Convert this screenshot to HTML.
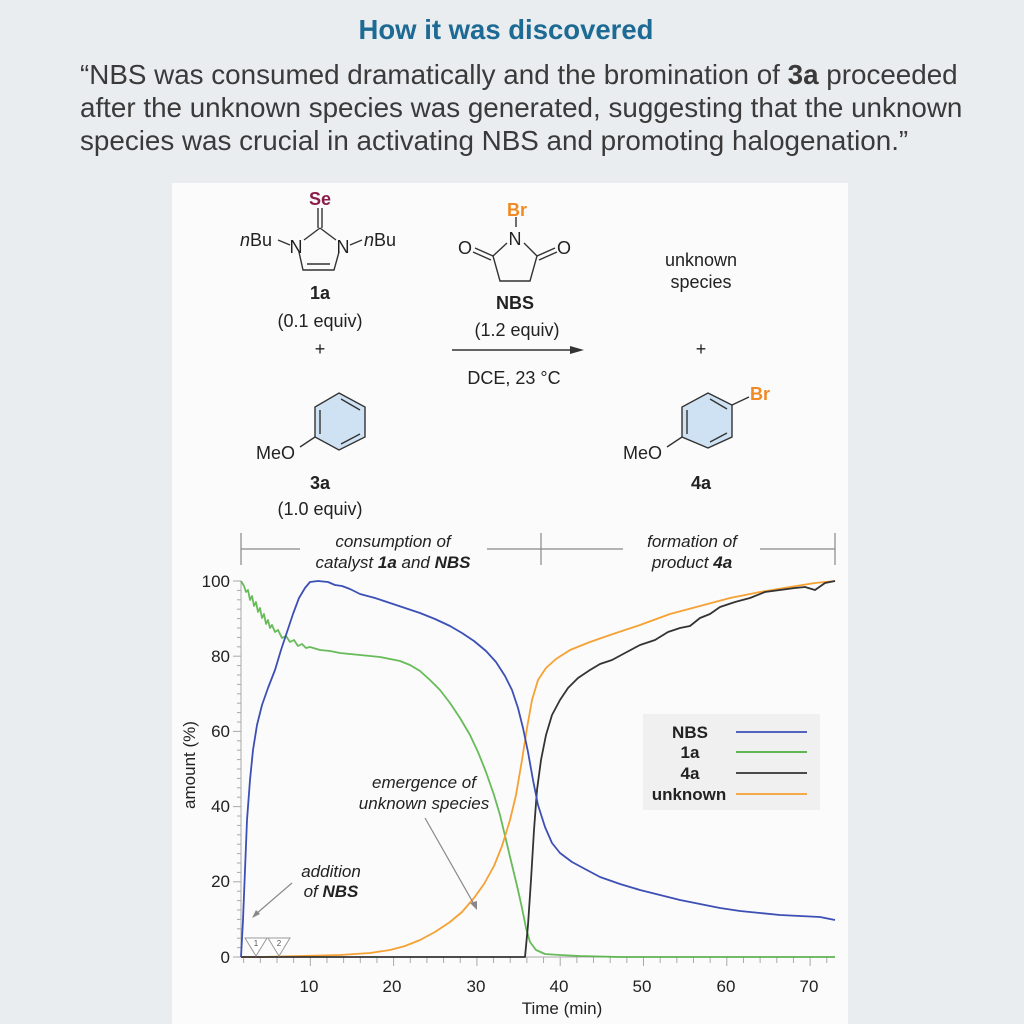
<!DOCTYPE html>
<html><head><meta charset="utf-8"><style>
body{margin:0;width:1024px;height:1024px;background:#e9edef;font-family:"Liberation Sans",sans-serif;overflow:hidden;position:relative}
.t{position:absolute;left:-6px;width:1024px;text-align:center;top:14px;font-size:27.5px;font-weight:bold;color:#1d6a94}
.q{position:absolute;left:80px;top:58px;font-size:27.8px;line-height:33px;color:#3a3a3a;white-space:nowrap}
.card{position:absolute;left:172px;top:183px;width:676px;height:841px;background:#fbfbfb}
svg{position:absolute;left:0;top:0}
</style></head><body>
<div class="t">How it was discovered</div>
<div class="q">“NBS was consumed dramatically and the bromination of <b>3a</b> proceeded<br>after the unknown species was generated, suggesting that the unknown<br>species was crucial in activating NBS and promoting halogenation.”</div>
<div class="card"></div>
<svg width="1024" height="1024" font-family="Liberation Sans, sans-serif">
<!-- 1a -->
<g fill="none" stroke="#333" stroke-width="1.4">
<line x1="318" y1="208" x2="318" y2="228"/><line x1="322" y1="208" x2="322" y2="228"/>
<line x1="320" y1="228" x2="336" y2="240"/><line x1="320" y1="228" x2="304" y2="240"/>
<polyline points="299,252 303,270 334,270 339,252"/><line x1="307" y1="264" x2="330" y2="264"/>
<line x1="278" y1="240" x2="290" y2="245"/><line x1="350" y1="245" x2="362" y2="240"/>
</g>
<text x="320" y="205" font-size="18" font-weight="bold" fill="#8a1d4a" text-anchor="middle">Se</text>
<text x="240" y="246" font-size="18" fill="#222"><tspan font-style="italic">n</tspan>Bu</text>
<text x="296" y="253" font-size="18" fill="#222" text-anchor="middle">N</text><text x="343" y="253" font-size="18" fill="#222" text-anchor="middle">N</text>
<text x="364" y="246" font-size="18" fill="#222"><tspan font-style="italic">n</tspan>Bu</text>
<text x="320" y="299" font-size="18" font-weight="bold" fill="#222" text-anchor="middle">1a</text>
<text x="320" y="327" font-size="18" fill="#222" text-anchor="middle">(0.1 equiv)</text>
<text x="320" y="355" font-size="18" fill="#222" text-anchor="middle">+</text>
<!-- 3a -->
<polygon points="339,393 365,407 365,437 339,450 315,437 315,407" fill="#cfe2f3" stroke="#333" stroke-width="1.4"/>
<g stroke="#333" stroke-width="1.4"><line x1="320" y1="410" x2="320" y2="434"/><line x1="341" y1="399" x2="360" y2="410"/><line x1="341" y1="444" x2="360" y2="434"/><line x1="315" y1="437" x2="300" y2="447"/></g>
<text x="256" y="459" font-size="18" fill="#222">MeO</text>
<text x="320" y="489" font-size="18" font-weight="bold" fill="#222" text-anchor="middle">3a</text>
<text x="320" y="515" font-size="18" fill="#222" text-anchor="middle">(1.0 equiv)</text>
<!-- NBS -->
<g fill="none" stroke="#333" stroke-width="1.4">
<line x1="516" y1="217" x2="516" y2="227"/>
<polyline points="507,243 493,256 500,281 530,281 537,256 524,243"/>
<line x1="493" y1="256" x2="475" y2="248"/><line x1="491" y1="260" x2="473" y2="252"/>
<line x1="537" y1="256" x2="555" y2="248"/><line x1="539" y1="260" x2="557" y2="252"/>
</g>
<text x="517" y="216" font-size="18" font-weight="bold" fill="#f08a24" text-anchor="middle">Br</text>
<text x="515" y="245" font-size="18" fill="#222" text-anchor="middle">N</text>
<text x="465" y="254" font-size="18" fill="#222" text-anchor="middle">O</text>
<text x="564" y="254" font-size="18" fill="#222" text-anchor="middle">O</text>
<text x="515" y="309" font-size="18" font-weight="bold" fill="#222" text-anchor="middle">NBS</text>
<text x="517" y="336" font-size="18" fill="#222" text-anchor="middle">(1.2 equiv)</text>
<line x1="452" y1="350" x2="572" y2="350" stroke="#333" stroke-width="1.4"/><polygon points="584,350 570,346 570,354" fill="#333"/>
<text x="514" y="384" font-size="18" fill="#222" text-anchor="middle">DCE, 23 °C</text>
<text x="701" y="266" font-size="18" fill="#222" text-anchor="middle">unknown</text>
<text x="701" y="288" font-size="18" fill="#222" text-anchor="middle">species</text>
<text x="701" y="355" font-size="18" fill="#222" text-anchor="middle">+</text>
<!-- 4a -->
<polygon points="708,393 732,405 732,437 708,448 682,437 682,407" fill="#cfe2f3" stroke="#333" stroke-width="1.4"/>
<g stroke="#333" stroke-width="1.4"><line x1="687" y1="410" x2="687" y2="434"/><line x1="710" y1="399" x2="727" y2="409"/><line x1="710" y1="442" x2="727" y2="433"/><line x1="682" y1="437" x2="667" y2="447"/><line x1="732" y1="405" x2="749" y2="397"/></g>
<text x="750" y="400" font-size="18" font-weight="bold" fill="#f08a24">Br</text>
<text x="623" y="459" font-size="18" fill="#222">MeO</text>
<text x="701" y="489" font-size="18" font-weight="bold" fill="#222" text-anchor="middle">4a</text>
<!-- header bracket -->
<g stroke="#888" stroke-width="1.2">
<line x1="241" y1="533" x2="241" y2="565"/><line x1="541" y1="533" x2="541" y2="565"/><line x1="835" y1="533" x2="835" y2="565"/>
<line x1="241" y1="549" x2="300" y2="549"/><line x1="487" y1="549" x2="623" y2="549"/><line x1="760" y1="549" x2="835" y2="549"/>
</g>
<g font-size="17" font-style="italic" fill="#222" text-anchor="middle">
<text x="393" y="547">consumption of</text>
<text x="393" y="568">catalyst <tspan font-weight="bold">1a</tspan> and <tspan font-weight="bold">NBS</tspan></text>
<text x="692" y="547">formation of</text>
<text x="692" y="568">product <tspan font-weight="bold">4a</tspan></text>
</g>
<!-- axes -->
<g stroke="#aaa" stroke-width="1">
<line x1="241" y1="581" x2="241" y2="957"/>
<line x1="241" y1="957" x2="835" y2="957"/>
</g>
<g stroke="#aaa" stroke-width="1" id="yt"></g>
<g stroke="#aaa" stroke-width="1" id="xt"></g>
<g font-size="17" fill="#222" text-anchor="end">
<text x="230" y="587">100</text><text x="230" y="662">80</text><text x="230" y="737">60</text><text x="230" y="812">40</text><text x="230" y="887">20</text><text x="230" y="963">0</text>
</g>
<g font-size="17" fill="#222" text-anchor="middle">
<text x="309" y="992">10</text><text x="392" y="992">20</text><text x="476" y="992">30</text><text x="559" y="992">40</text><text x="642" y="992">50</text><text x="726" y="992">60</text><text x="809" y="992">70</text>
<text x="562" y="1014">Time (min)</text>
</g>
<text transform="translate(195,765) rotate(-90)" font-size="17" fill="#222" text-anchor="middle">amount (%)</text>
<!-- curves -->
<g fill="none" stroke-width="1.8" stroke-linejoin="round">
<polyline stroke="#4caf3c" opacity="0.85" points="241,581 244,586 246,592 248,590 250,600 252,596 254,606 256,602 258,612 260,608 262,618 264,614 266,624 268,620 270,628 272,625 275,632 278,630 282,638 286,636 290,642 294,640 298,646 302,644 306,648 310,647 320,650 330,651 340,653 350,654 360,655 370,656 380,657 390,659 400,661 410,665 420,671 430,680 440,690 450,703 460,718 470,735 478,752 486,772 494,795 500,815 506,840 512,865 518,890 522,908 526,928 530,942 536,950 545,954 560,955 580,956 620,957 835,957"/>
<polyline stroke="#f5a133" points="241,957 260,957 300,956 340,955 370,953 390,950 405,946 420,940 435,932 450,922 462,912 474,898 484,884 494,866 502,846 510,820 516,795 522,760 527,728 532,700 538,680 546,668 556,659 570,650 590,642 610,635 640,625 670,614 700,606 730,598 760,592 790,587 815,583 835,581"/>
<polyline stroke="#333" points="241,957 525,957 528,925 531,880 534,830 537,790 541,760 546,735 552,715 560,700 568,688 578,678 590,670 600,664 612,660 625,653 640,645 655,640 668,632 680,628 690,626 700,618 710,614 720,607 735,602 750,598 765,592 780,590 795,588 805,587 815,590 825,583 835,581"/>
<polyline stroke="#3c4fb5" points="241,957 243,920 245,870 247,820 250,780 253,750 257,725 262,705 268,688 275,670 281,650 287,632 293,614 299,598 305,588 310,582 318,581 328,582 335,585 342,586 350,589 360,594 375,598 390,603 405,608 420,613 435,619 450,626 462,633 474,641 486,651 496,662 505,676 512,690 518,708 523,728 528,752 533,780 538,805 545,827 552,843 560,853 572,862 585,869 600,877 620,884 640,890 660,895 680,900 700,904 720,908 740,911 760,913 780,915 800,916 820,917 835,920"/>
</g>
<!-- legend -->
<rect x="643" y="714" width="177" height="96" fill="#f0f0f0"/>
<g font-size="17" font-weight="bold" fill="#222" text-anchor="middle">
<text x="690" y="738">NBS</text><text x="690" y="758">1a</text><text x="690" y="779">4a</text><text x="689" y="800">unknown</text>
</g>
<g stroke-width="1.8"><line x1="736" y1="732" x2="807" y2="732" stroke="#3c4fb5"/><line x1="736" y1="752" x2="807" y2="752" stroke="#4caf3c"/><line x1="736" y1="773" x2="807" y2="773" stroke="#333"/><line x1="736" y1="794" x2="807" y2="794" stroke="#f5a133"/></g>
<!-- annotations -->
<g font-size="17" font-style="italic" fill="#222" text-anchor="middle">
<text x="331" y="877">addition</text><text x="331" y="897">of <tspan font-weight="bold">NBS</tspan></text>
<text x="424" y="788">emergence of</text><text x="424" y="809">unknown species</text>
</g>
<g stroke="#888" stroke-width="1.2" fill="none"><line x1="292" y1="883" x2="256" y2="914"/><line x1="425" y1="818" x2="475" y2="906"/></g>
<polygon points="252,918 256,910 260,914" fill="#888"/><polygon points="477,910 470,903 477,901" fill="#888"/>
<g stroke="#999" fill="#fff" stroke-width="1"><polygon points="245,938 267,938 256,956"/><polygon points="268,938 290,938 279,956"/></g>
<text x="256" y="946" font-size="8" text-anchor="middle" fill="#555">1</text><text x="279" y="946" font-size="8" text-anchor="middle" fill="#555">2</text>
</svg>
<script>
var yt=document.getElementById('yt'),xt=document.getElementById('xt'),ns='http://www.w3.org/2000/svg';
for(var v=0;v<=100;v+=2.5){var y=957-3.76*v,l=document.createElementNS(ns,'line');var L=(v%20==0)?8:4;l.setAttribute('x1',241-L);l.setAttribute('x2',241);l.setAttribute('y1',y);l.setAttribute('y2',y);yt.appendChild(l);}
for(var t=2;t<=73;t+=2){var x=227+8.33*t,l=document.createElementNS(ns,'line');l.setAttribute('x1',x);l.setAttribute('x2',x);l.setAttribute('y1',957);l.setAttribute('y2',t%10==0?966:963);xt.appendChild(l);}
</script>
</body></html>
